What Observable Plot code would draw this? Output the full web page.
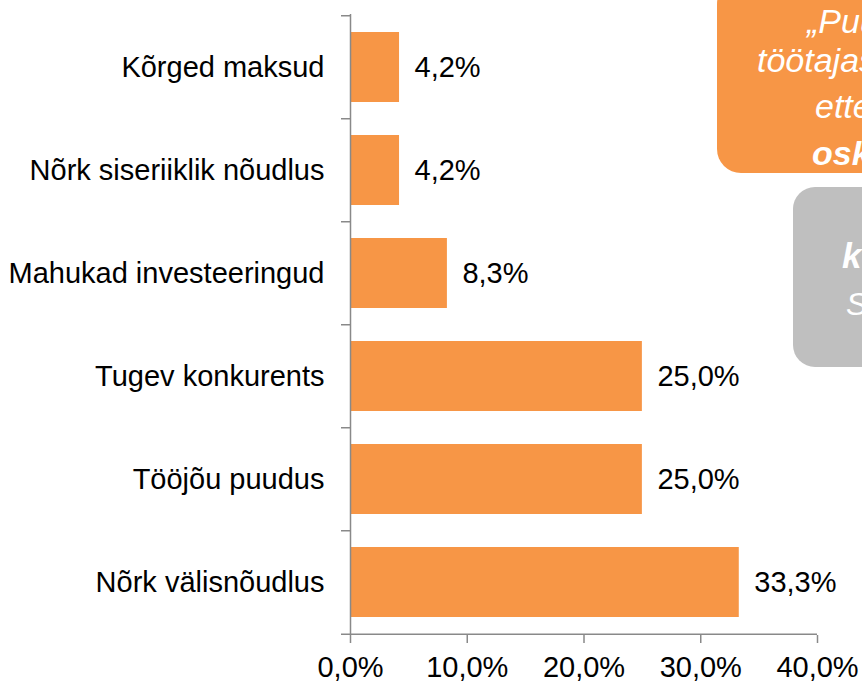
<!DOCTYPE html>
<html>
<head>
<meta charset="utf-8">
<script src="https://cdn.jsdelivr.net/npm/d3@7"></script>
<script src="https://cdn.jsdelivr.net/npm/@observablehq/plot@0.6"></script>
<style>
  html, body { margin: 0; padding: 0; background: #fff; overflow: hidden; }
  #wrap { position: relative; width: 862px; height: 684px; overflow: hidden; }
  #overlay { position: absolute; left: 0; top: 0; pointer-events: none; }
</style>
</head>
<body>
<div id="wrap"></div>
<script>
const categories = [
  "Kõrged maksud",
  "Nõrk siseriiklik nõudlus",
  "Mahukad investeeringud",
  "Tugev konkurents",
  "Tööjõu puudus",
  "Nõrk välisnõudlus"
];
const values = [4.2, 4.2, 8.3, 25.0, 25.0, 33.3];
const xTicks = [0, 10, 20, 30, 40];
const orangeLines = ["„Puudub kvalifitseeritud", "töötajaskond, mida", "ettevõtted vajavad,", "oskustöölised\u201D"];
const grayLines = ["kõrge", "Sisendhinnad"];

const data = categories.map((c, i) => ({cat: c, val: values[i]}));
const fmt = d => d.toFixed(1).replace(".", ",") + "%";

const W = 862, H = 684;
const mL = 350, mR = 45, mT = 14, mB = 49;
const pxPerUnit = (W - mL - mR) / 40;
const tickLen = 9 / pxPerUnit;
const step = (H - mT - mB) / categories.length;
const axisColor = "#898989";
const font = "Arial, 'Liberation Sans', sans-serif";
const fs = 29;

const chart = Plot.plot({
  width: W,
  height: H,
  marginLeft: mL,
  marginRight: mR,
  marginTop: mT,
  marginBottom: mB,
  style: {fontFamily: font, fontSize: fs + "px", background: "transparent", color: "#000"},
  x: {domain: [0, 40], ticks: xTicks, tickFormat: fmt},
  y: {domain: categories, paddingInner: 0.325, paddingOuter: 0.1625},
  marks: [
    Plot.barX(data, {x: "val", y: "cat", fill: "#F79646"}),
    Plot.text(data, {x: "val", y: "cat", text: d => fmt(d.val), textAnchor: "start", dx: 15, fill: "#000", fontSize: fs}),
    Plot.ruleX([0], {stroke: axisColor, strokeWidth: 1.5}),
    Plot.ruleY(data, {y: "cat", x1: -tickLen, x2: 0, dy: -step / 2, stroke: axisColor, strokeWidth: 1.5}),
    Plot.ruleY(data.slice(-1), {y: "cat", x1: -tickLen, x2: 40, dy: step / 2, stroke: axisColor, strokeWidth: 1.5}),
    Plot.axisX({ticks: xTicks, tickFormat: fmt, tickSize: 8, tickPadding: 13, stroke: axisColor, strokeWidth: 1.5, fill: "#000", fontSize: fs, label: null}),
    Plot.axisY({tickSize: 0, tickPadding: 26, fill: "#000", fontSize: fs, label: null})
  ]
});

const wrap = document.getElementById("wrap");
wrap.appendChild(chart);

// annotation boxes (overlay)
const ns = "http://www.w3.org/2000/svg";
const ov = document.createElementNS(ns, "svg");
ov.setAttribute("id", "overlay");
ov.setAttribute("width", W);
ov.setAttribute("height", H);
function el(tag, attrs, text) {
  const e = document.createElementNS(ns, tag);
  for (const k in attrs) e.setAttribute(k, attrs[k]);
  if (text != null) e.textContent = text;
  ov.appendChild(e);
  return e;
}
el("rect", {x: 717, y: -20, width: 320, height: 193, rx: 24, ry: 24, fill: "#F79646"});
const oX = [807, 757, 815, 812];
const oY = [33, 72, 118, 165];
orangeLines.forEach((t, i) => {
  el("text", {x: oX[i], y: oY[i], fill: "#fff", "font-family": font, "font-size": 34,
    "font-style": "italic", "font-weight": i === 3 ? "bold" : "normal"}, t);
});
el("rect", {x: 793, y: 187, width: 250, height: 180, rx: 22, ry: 22, fill: "#BFBFBF"});
el("text", {x: 842, y: 268, fill: "#fff", "font-family": font, "font-size": 35, "font-style": "italic", "font-weight": "bold"}, grayLines[0]);
el("text", {x: 846, y: 315, fill: "#fff", "font-family": font, "font-size": 32, "font-style": "italic"}, grayLines[1]);
wrap.appendChild(ov);
</script>
</body>
</html>
